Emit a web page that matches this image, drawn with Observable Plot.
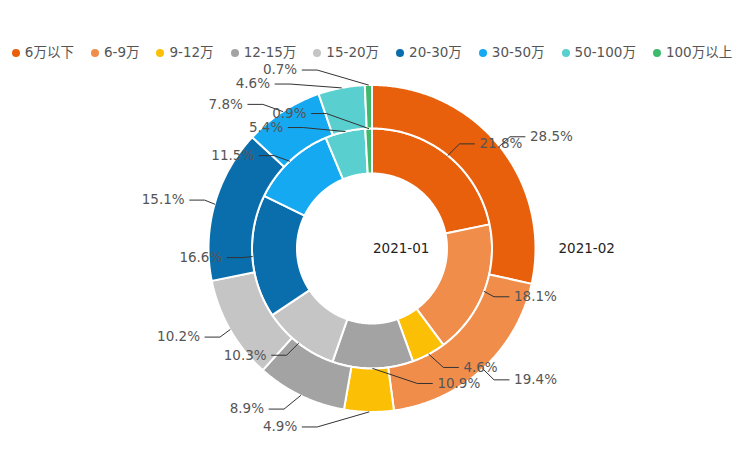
<!DOCTYPE html>
<html>
<head>
<meta charset="utf-8">
<script src="https://cdn.jsdelivr.net/npm/d3@7"></script>
<script src="https://cdn.jsdelivr.net/npm/@observablehq/plot@0.6"></script>
<style>
  body { margin: 0; background: #fff; font-family: "DejaVu Sans", "Noto Sans CJK SC", sans-serif; }
  #legend { height: 62px; box-sizing: border-box; padding-top: 43px; display: flex; justify-content: center; gap: 17px;
            font-size: 13.5px; color: #555; line-height: 15px; white-space: nowrap; }
  .item { display: flex; align-items: center; gap: 5px; }
  .sw { width: 8px; height: 8px; border-radius: 50%; display: inline-block; }
</style>
</head>
<body>
<div id="legend"></div>
<div id="chart"></div>
<script>
// ---- data ----
const categories = ["6万以下", "6-9万", "9-12万", "12-15万", "15-20万", "20-30万", "30-50万", "50-100万", "100万以上"];
const colors = ["#e8600c", "#f08d4b", "#fbbf06", "#a3a3a3", "#c5c5c5", "#0b6eac", "#15a9f2", "#5acfcf", "#3dba6b"];
const seriesNames = ["2021-01", "2021-02"];
const values202101 = [21.8, 18.1, 4.6, 10.9, 10.3, 16.6, 11.5, 5.4, 0.9];
const values202102 = [28.5, 19.4, 4.9, 8.9, 10.2, 15.1, 7.8, 4.6, 0.7];

// ---- layout constants ----
const W = 744, H = 466, legendH = 62;
const cx = 371.5, cy = 248;
const LEN1 = 15, LEN2 = 15, DIST = 5, LABEL_H = 14;
const rings = [
  {name: seriesNames[0], values: values202101, r0: 75, r1: 120, nameX: cx + 1},
  {name: seriesNames[1], values: values202102, r0: 120, r1: 163.5, nameX: cx + 186.5}
];

// ---- legend ----
const legend = document.getElementById("legend");
categories.forEach((c, i) => {
  const it = document.createElement("span");
  it.className = "item";
  it.innerHTML = `<span class="sw" style="background:${colors[i]}"></span><span>${c}</span>`;
  legend.appendChild(it);
});

// ---- geometry ----
const pt = (r, a) => [cx + r * Math.sin(a), cy - r * Math.cos(a)];
const arcPts = [];
const lineRows = [];
const labels = [];

function adjustSingleSide(list, r, dir) {
  // echarts-4 style label collision avoidance
  list.sort((a, b) => a.y - b.y);
  const len = list.length;
  function shiftUp(end, delta) {
    for (let j = end; j >= 0; j--) {
      if (list[j].y - delta < 0) break;
      list[j].y -= delta;
      if (j > 0 && list[j].y > list[j - 1].y + list[j - 1].h) break;
    }
  }
  function shiftDown(start, end, delta) {
    for (let j = start; j < end; j++) {
      if (list[j].y + delta > H) break;
      list[j].y += delta;
      if (j > start && j + 1 < end && list[j + 1].y > list[j].y + list[j].h) {
        shiftUp(j, delta / 2);
        return;
      }
    }
    shiftUp(end - 1, delta / 2);
  }
  let lastY = 0;
  for (let i = 0; i < len; i++) {
    const delta = list[i].y - lastY;
    if (delta < 0) shiftDown(i, len, -delta);
    lastY = list[i].y + list[i].h;
  }
  if (H - lastY < 0) shiftUp(len - 1, lastY - H);
  const up = list.filter(d => d.y < cy), down = list.filter(d => d.y >= cy);
  function changeX(arr, isDown) {
    let last = isDown ? Number.MAX_VALUE : 0;
    for (const d of arr) {
      const dy = Math.abs(d.y - cy);
      const R = r + LEN1 + LEN2;
      let dx = dy < r + LEN1 ? Math.sqrt(R * R - dy * dy) : Math.abs(d.x - cx);
      if (isDown && dx >= last) dx = last - 10;
      if (!isDown && dx <= last) dx = last + 10;
      d.x = cx + dx * dir;
      last = dx;
    }
  }
  changeX(up, false);
  changeX(down, true);
}

rings.forEach((ring, ri) => {
  const total = d3.sum(ring.values);
  let cum = 0;
  const items = [];
  ring.values.forEach((v, i) => {
    const a0 = cum / total * 2 * Math.PI;
    cum += v;
    const a1 = cum / total * 2 * Math.PI;
    const key = `${ri}-${i}`;
    const n = Math.max(2, Math.ceil((a1 - a0) / (Math.PI / 360)));
    for (let k = 0; k <= n; k++) {
      const [x, y] = pt(ring.r1, a0 + (a1 - a0) * k / n);
      arcPts.push({key, cat: categories[i], x, y});
    }
    for (let k = n; k >= 0; k--) {
      const [x, y] = pt(ring.r0, a0 + (a1 - a0) * k / n);
      arcPts.push({key, cat: categories[i], x, y});
    }
    const m = (a0 + a1) / 2;
    const sx = Math.sin(m), sy = -Math.cos(m);
    const dir = sx < 0 ? -1 : 1;
    const x1 = cx + ring.r1 * sx, y1 = cy + ring.r1 * sy;
    const x2 = x1 + sx * LEN1, y2 = y1 + sy * LEN1;
    const x3 = x2 + dir * LEN2;
    items.push({key, dir, x1, y1, x: x3 + dir * DIST, y: y2, h: LABEL_H, text: v.toFixed(1) + "%", lineDist: x2 - x3});
  });
  adjustSingleSide(items.filter(d => d.x >= cx), ring.r1, 1);
  adjustSingleSide(items.filter(d => d.x < cx), ring.r1, -1);
  for (const d of items) {
    const side = d.x < cx ? -1 : 1;
    const endX = d.x - side * DIST;
    const elbowX = endX + d.lineDist;
    lineRows.push({key: d.key, x: d.x1, y: d.y1});
    lineRows.push({key: d.key, x: elbowX, y: d.y});
    lineRows.push({key: d.key, x: endX, y: d.y});
    labels.push({x: d.x, y: d.y, text: d.text, side});
  }
});

const names = rings.map(r => ({x: r.nameX, y: cy, text: r.name}));
const font = "DejaVu Sans";

const chart = Plot.plot({
  width: W,
  height: H - legendH,
  margin: 0,
  x: {domain: [0, W], range: [0, W], axis: null},
  y: {domain: [legendH, H], range: [0, H - legendH], axis: null},
  color: {domain: categories, range: colors},
  style: {fontFamily: font, background: "#fff"},
  marks: [
    Plot.line(arcPts, {x: "x", y: "y", z: "key", fill: "cat", stroke: "white", strokeWidth: 2, curve: "linear-closed"}),
    Plot.line(lineRows, {x: "x", y: "y", z: "key", stroke: "#333", strokeWidth: 1}),
    Plot.text(labels.filter(d => d.side > 0), {x: "x", y: "y", text: "text", textAnchor: "start", fill: "#555", fontSize: 13.5, fontFamily: font}),
    Plot.text(labels.filter(d => d.side < 0), {x: "x", y: "y", text: "text", textAnchor: "end", fill: "#555", fontSize: 13.5, fontFamily: font}),
    Plot.text(names, {x: "x", y: "y", text: "text", textAnchor: "start", fill: "#222", fontSize: 13.5, fontFamily: font})
  ]
});
document.getElementById("chart").appendChild(chart);
</script>
</body>
</html>
